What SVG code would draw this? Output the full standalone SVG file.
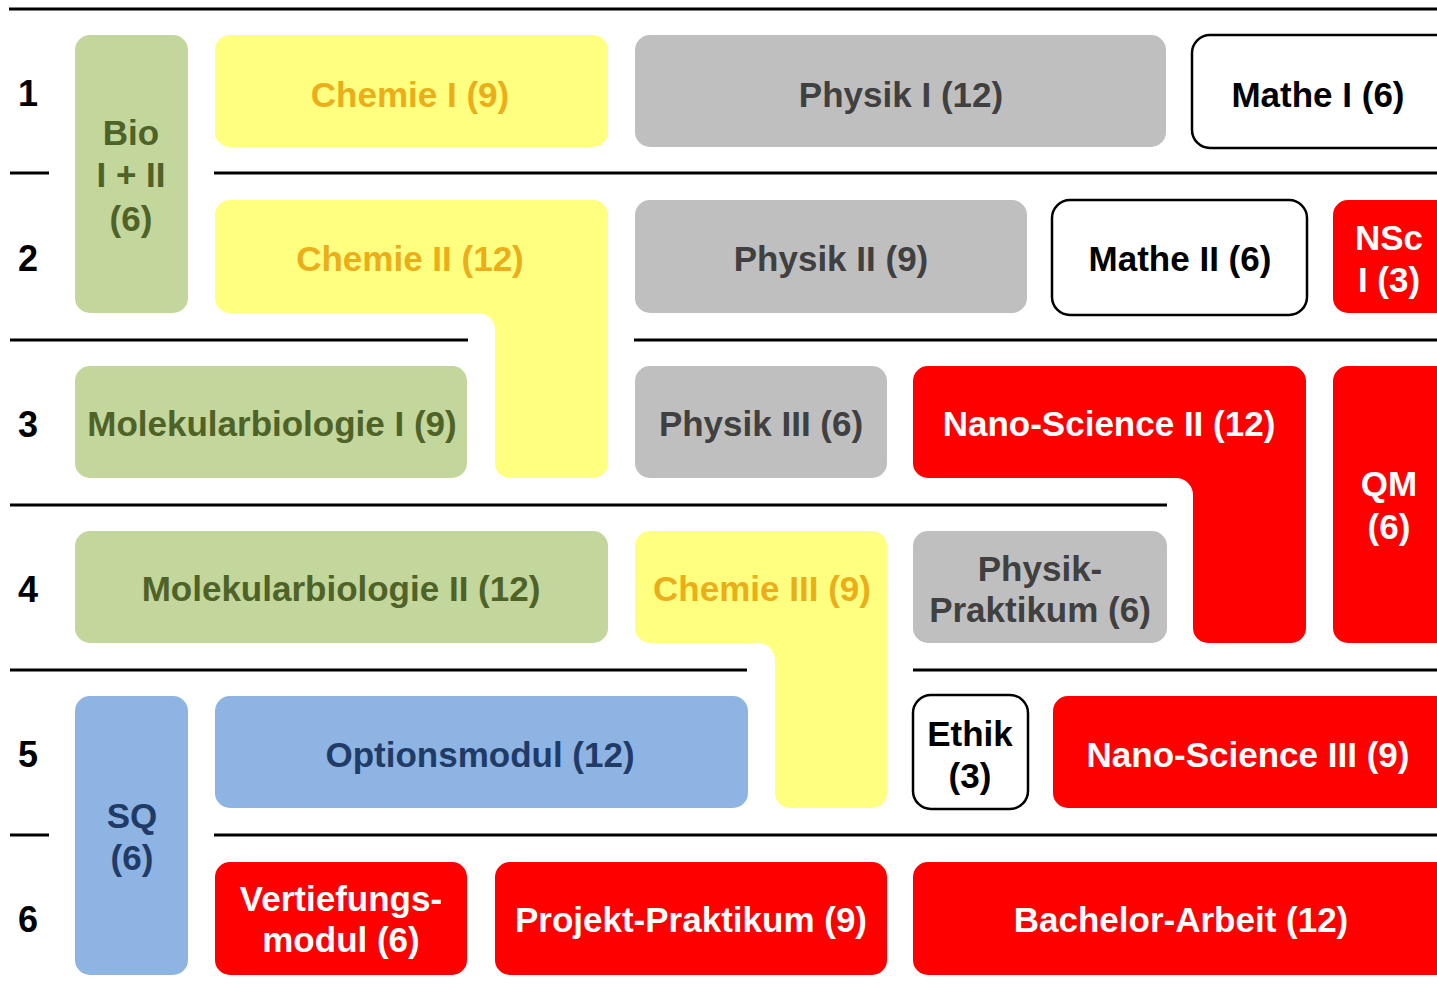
<svg xmlns="http://www.w3.org/2000/svg" width="1437" height="996" viewBox="0 0 1437 996">
<style>
text{font-family:"Liberation Sans",Arial,sans-serif;font-weight:bold;font-size:35px;text-anchor:middle}
.row{font-size:36px;fill:#000}
.g{fill:#c3d69b}.gt{fill:#4f6228}
.y{fill:#ffff80}.yt{fill:#ebae1a}
.s{fill:#bfbfbf}.st{fill:#404040}
.r{fill:#ff0000}.rt{fill:#ffffff}
.b{fill:#8eb4e3}.bt{fill:#1f3b66}
.w{fill:#ffffff;stroke:#000;stroke-width:2.5}.wt{fill:#000}
.ln{stroke:#000;stroke-width:3;fill:none}
</style>
<rect width="1437" height="996" fill="#fff"/>
<g id="lines">
<line class="ln" x1="9" y1="9" x2="1437" y2="9"/>
<line class="ln" x1="10" y1="173" x2="49" y2="173"/>
<line class="ln" x1="214" y1="173" x2="1437" y2="173"/>
<line class="ln" x1="10" y1="340" x2="468" y2="340"/>
<line class="ln" x1="634" y1="340" x2="1437" y2="340"/>
<line class="ln" x1="10" y1="505" x2="1167" y2="505"/>
<line class="ln" x1="10" y1="670" x2="747" y2="670"/>
<line class="ln" x1="913" y1="670" x2="1437" y2="670"/>
<line class="ln" x1="10" y1="835" x2="49" y2="835"/>
<line class="ln" x1="214" y1="835" x2="1437" y2="835"/>
</g>
<g id="rows">
<text class="row" x="28" y="106">1</text>
<text class="row" x="28" y="271">2</text>
<text class="row" x="28" y="437">3</text>
<text class="row" x="28" y="602">4</text>
<text class="row" x="28" y="767">5</text>
<text class="row" x="28" y="932">6</text>
</g>
<g id="bio">
<rect class="g" x="75" y="35" width="113" height="278" rx="15"/>
<text class="gt" x="131" y="145">Bio</text>
<text class="gt" x="131" y="187">I + II</text>
<text class="gt" x="131" y="231">(6)</text>
</g>
<g id="chemie1">
<rect class="y" x="215" y="35" width="393" height="112" rx="15"/>
<text class="yt" x="410" y="107">Chemie I (9)</text>
</g>
<g id="physik1">
<rect class="s" x="635" y="35" width="531" height="112" rx="15"/>
<text class="st" x="901" y="107">Physik I (12)</text>
</g>
<g id="mathe1">
<rect class="w" x="1192" y="35" width="270" height="113" rx="18"/>
<text class="wt" x="1318" y="107">Mathe I (6)</text>
</g>
<g id="chemie2">
<path class="y" d="M230,200 H593 A15,15 0 0 1 608,215 V463 A15,15 0 0 1 593,478 H510 A15,15 0 0 1 495,463 V330 A17,17 0 0 0 478,313 H230 A15,15 0 0 1 215,298 V215 A15,15 0 0 1 230,200 Z"/>
<text class="yt" x="410" y="271">Chemie II (12)</text>
</g>
<g id="physik2">
<rect class="s" x="635" y="200" width="392" height="113" rx="15"/>
<text class="st" x="831" y="271">Physik II (9)</text>
</g>
<g id="mathe2">
<rect class="w" x="1052" y="200" width="255" height="115" rx="18"/>
<text class="wt" x="1180" y="271">Mathe II (6)</text>
</g>
<g id="nsc1">
<rect class="r" x="1333" y="200" width="120" height="113" rx="15"/>
<text class="rt" x="1389" y="250">NSc</text>
<text class="rt" x="1389" y="292">I (3)</text>
</g>
<g id="molbio1">
<rect class="g" x="75" y="366" width="392" height="112" rx="15"/>
<text class="gt" x="272" y="436">Molekularbiologie I (9)</text>
</g>
<g id="physik3">
<rect class="s" x="635" y="366" width="252" height="112" rx="15"/>
<text class="st" x="761" y="436">Physik III (6)</text>
</g>
<g id="nano2">
<path class="r" d="M928,366 H1291 A15,15 0 0 1 1306,381 V628 A15,15 0 0 1 1291,643 H1208 A15,15 0 0 1 1193,628 V495 A17,17 0 0 0 1176,478 H928 A15,15 0 0 1 913,463 V381 A15,15 0 0 1 928,366 Z"/>
<text class="rt" x="1109" y="436">Nano-Science II (12)</text>
</g>
<g id="qm">
<rect class="r" x="1333" y="366" width="120" height="277" rx="15"/>
<text class="rt" x="1389" y="496">QM</text>
<text class="rt" x="1389" y="539">(6)</text>
</g>
<g id="molbio2">
<rect class="g" x="75" y="531" width="533" height="112" rx="15"/>
<text class="gt" x="341" y="601">Molekularbiologie II (12)</text>
</g>
<g id="chemie3">
<path class="y" d="M650,531 H872 A15,15 0 0 1 887,546 V793 A15,15 0 0 1 872,808 H790 A15,15 0 0 1 775,793 V660 A17,17 0 0 0 758,643 H650 A15,15 0 0 1 635,628 V546 A15,15 0 0 1 650,531 Z"/>
<text class="yt" x="762" y="601">Chemie III (9)</text>
</g>
<g id="physikpraktikum">
<rect class="s" x="913" y="531" width="254" height="112" rx="15"/>
<text class="st" x="1040" y="581">Physik-</text>
<text class="st" x="1040" y="622">Praktikum (6)</text>
</g>
<g id="sq">
<rect class="b" x="75" y="696" width="113" height="279" rx="15"/>
<text class="bt" x="132" y="828">SQ</text>
<text class="bt" x="132" y="870">(6)</text>
</g>
<g id="optionsmodul">
<rect class="b" x="215" y="696" width="533" height="112" rx="15"/>
<text class="bt" x="480" y="767">Optionsmodul (12)</text>
</g>
<g id="ethik">
<rect class="w" x="913" y="695" width="115" height="114" rx="18"/>
<text class="wt" x="970" y="746">Ethik</text>
<text class="wt" x="970" y="788">(3)</text>
</g>
<g id="nano3">
<rect class="r" x="1053" y="696" width="400" height="112" rx="15"/>
<text class="rt" x="1248" y="767">Nano-Science III (9)</text>
</g>
<g id="vertiefung">
<rect class="r" x="215" y="862" width="252" height="113" rx="15"/>
<text class="rt" x="341" y="911">Vertiefungs-</text>
<text class="rt" x="341" y="952">modul (6)</text>
</g>
<g id="projekt">
<rect class="r" x="495" y="862" width="392" height="113" rx="15"/>
<text class="rt" x="691" y="932">Projekt-Praktikum (9)</text>
</g>
<g id="bachelor">
<rect class="r" x="913" y="862" width="540" height="113" rx="15"/>
<text class="rt" x="1181" y="932">Bachelor-Arbeit (12)</text>
</g>
</svg>
